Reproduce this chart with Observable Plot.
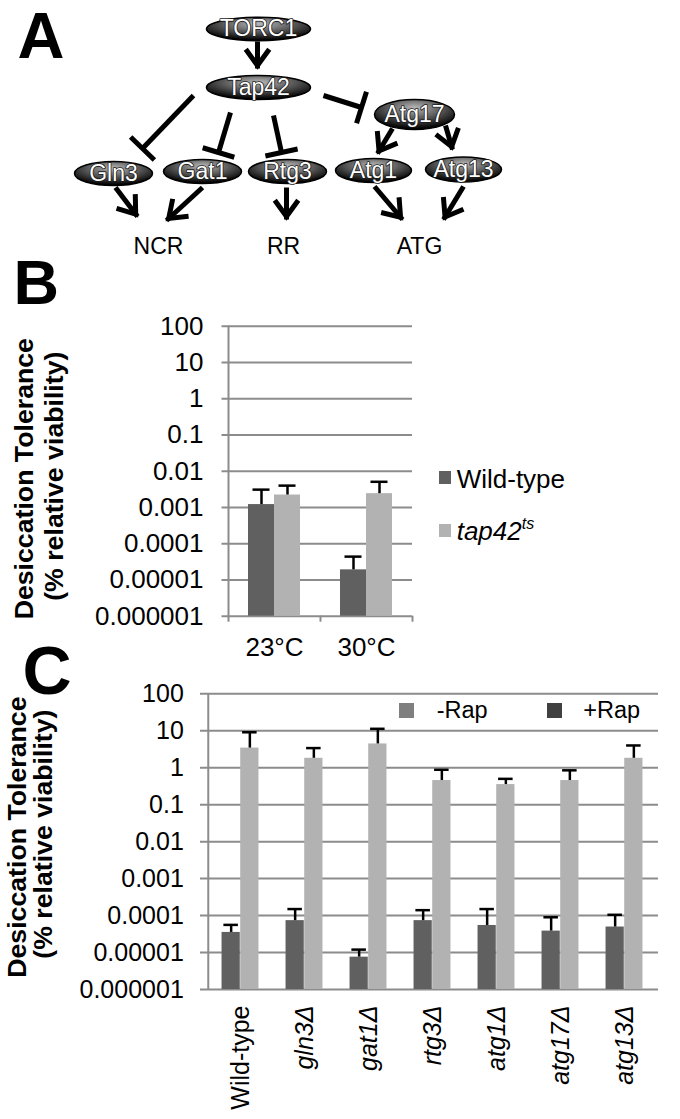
<!DOCTYPE html>
<html><head><meta charset="utf-8">
<script src="https://cdn.jsdelivr.net/npm/d3@7"></script>
<script src="https://cdn.jsdelivr.net/npm/@observablehq/plot@0.6"></script>
<style>
body{margin:0;background:#fff;}
#page{position:relative;width:680px;height:1119px;overflow:hidden;background:#fff;font-family:"Liberation Sans",Arial,sans-serif;color:#000;}
#page svg{position:absolute;left:0;}
.lab{position:absolute;white-space:nowrap;color:#000;}
.sw{position:absolute;}
</style></head><body><div id="page"></div>
<script>
// ---------- Panel A: pathway diagram ----------
const nodeNames = ["TORC1","Tap42","Atg17","Gln3","Gat1","Rtg3","Atg1","Atg13"];
const nodeX = [258,258,414,113,202,287,373,463];
const nodeY = [28.5,87,114,173,171,171,170,169];
const nodeRx = [52,52,40,39,39,39,38,38];
const nodeRy = [11.7,12,15,12,12,12,12,12.5];
const outputNames = ["NCR","RR","ATG"];
const outputX = [158,283,419];
const outputY = [253,253,253];
// activation edges (arrow at end)
const actFrom = [[257,41],[115,187],[202,187],[286,187],[374,186],[463,186],[392,128],[445,125]];
const actTo   = [[257,68],[137,216],[166,220],[286,219],[402,219],[443,219],[377,153],[452,149]];
// inhibition edges (T-bar at end)
const inhFrom = [[193,95],[230,112],[273,115],[323,95]];
const inhTo   = [[142,148],[218,152],[281,152],[361,107]];

// ---------- Panel B ----------
const conditionsB = ["23°C","30°C"];
const seriesB = ["Wild-type","tap42ts"];
const wildTypeB = [1.2e-3, 1.9e-5];
const wildTypeErrB = [3.1e-3, 4.4e-5];
const tap42B = [2.2e-3, 2.4e-3];
const tap42ErrB = [4.0e-3, 5.1e-3];

// ---------- Panel C ----------
const strainsC = ["Wild-type","gln3Δ","gat1Δ","rtg3Δ","atg1Δ","atg17Δ","atg13Δ"];
const plusRap = [3.5e-5, 7.3e-5, 7.5e-6, 7.3e-5, 5.4e-5, 3.8e-5, 4.9e-5];
const plusRapErr = [5.6e-5, 1.5e-4, 1.2e-5, 1.4e-4, 1.5e-4, 9.0e-5, 1.05e-4];
const minusRap = [3.4, 1.8, 4.4, 0.45, 0.35, 0.45, 1.8];
const minusRapErr = [9.1, 3.4, 11.3, 0.88, 0.50, 0.85, 4.0];

// shared log axis ticks
const yTicks = [1e-6,1e-5,1e-4,1e-3,1e-2,1e-1,1,10,100];
const yTickLabels = ["0.000001","0.00001","0.0001","0.001","0.01","0.1","1","10","100"];

const FONT = '"Liberation Sans", Arial, Helvetica, sans-serif';
const GRID = "#8c8c8c";
const DARK = "#606060";
const LIGHT = "#b2b2b2";
const page = document.getElementById("page");
const tickFmt = d => yTickLabels[yTicks.findIndex(t => Math.abs(Math.log10(t) - Math.log10(d)) < 1e-6)];

// ===== Panel A =====
function ellipseSymbol(ry) {
  return {draw(ctx, size) {
    const rx = Math.sqrt(size / Math.PI), k = 0.5522847498, ox = rx * k, oy = ry * k;
    ctx.moveTo(-rx, 0);
    ctx.bezierCurveTo(-rx, -oy, -ox, -ry, 0, -ry);
    ctx.bezierCurveTo(ox, -ry, rx, -oy, rx, 0);
    ctx.bezierCurveTo(rx, oy, ox, ry, 0, ry);
    ctx.bezierCurveTo(-ox, ry, -rx, oy, -rx, 0);
    ctx.closePath();
  }};
}
const nodes = nodeNames.map((n, i) => ({name: n, x: nodeX[i], y: nodeY[i], rx: nodeRx[i], ry: nodeRy[i]}));
const outputs = outputNames.map((n, i) => ({name: n, x: outputX[i], y: outputY[i]}));
const headLen = 20, headAng = 36 * Math.PI / 180;
const shafts = actFrom.map((f, i) => ({x1: f[0], y1: f[1], x2: actTo[i][0], y2: actTo[i][1]}));
const chevrons = actFrom.flatMap((f, i) => {
  const t = actTo[i];
  const a = Math.atan2(t[1] - f[1], t[0] - f[0]);
  const tx = t[0] - 3 * Math.cos(a), ty = t[1] - 3 * Math.sin(a);
  const b = a + Math.PI;
  return [
    {i, x: tx + headLen * Math.cos(b - headAng), y: ty + headLen * Math.sin(b - headAng)},
    {i, x: tx, y: ty},
    {i, x: tx + headLen * Math.cos(b + headAng), y: ty + headLen * Math.sin(b + headAng)}
  ];
});
const inhShafts = inhFrom.map((f, i) => ({x1: f[0], y1: f[1], x2: inhTo[i][0], y2: inhTo[i][1]}));
const barHalf = 16.5;
const tBars = inhFrom.map((f, i) => {
  const t = inhTo[i];
  const a = Math.atan2(t[1] - f[1], t[0] - f[0]);
  const px = -Math.sin(a), py = Math.cos(a);
  return {x1: t[0] - barHalf * px, y1: t[1] - barHalf * py, x2: t[0] + barHalf * px, y2: t[1] + barHalf * py};
});

const svgA = Plot.plot({
  width: 680, height: 250, margin: 0,
  style: {fontFamily: FONT, color: "#000", background: "transparent", overflow: "visible"},
  x: {domain: [0, 680], range: [0, 680], axis: null},
  y: {domain: [0, 250], range: [0, 250], axis: null},
  marks: [
    Plot.link(shafts, {x1: "x1", y1: "y1", x2: "x2", y2: "y2", stroke: "#000", strokeWidth: 5, strokeLinecap: "butt"}),
    Plot.line(chevrons, {x: "x", y: "y", z: "i", stroke: "#000", strokeWidth: 5, strokeLinejoin: "miter", strokeLinecap: "butt", strokeMiterlimit: 10}),
    Plot.link(inhShafts, {x1: "x1", y1: "y1", x2: "x2", y2: "y2", stroke: "#000", strokeWidth: 5, strokeLinecap: "butt"}),
    Plot.link(tBars, {x1: "x1", y1: "y1", x2: "x2", y2: "y2", stroke: "#000", strokeWidth: 5, strokeLinecap: "butt"}),
    ...nodes.map(n => Plot.dot([n], {x: "x", y: "y", r: n.rx, symbol: ellipseSymbol(n.ry), fill: "url(#nodeGrad)", stroke: "#000", strokeWidth: 1.5})),
    Plot.text(nodes, {x: "x", y: "y", text: "name", fill: "#fff", stroke: "#1a1a1a", strokeWidth: 1.6, paintOrder: "stroke", fontSize: 23, lineAnchor: "middle", textAnchor: "middle"}),
    Plot.text(outputs, {x: "x", y: "y", text: "name", fill: "#000", fontSize: 23, lineAnchor: "bottom", textAnchor: "middle"}),
    Plot.text(["A"], {text: d => d, frameAnchor: "top-left", dx: 17, dy: 57, textAnchor: "start", lineAnchor: "bottom", fontSize: 65, fontWeight: "bold"})
  ]
});
d3.select(svgA).insert("defs", ":first-child").html(
  '<radialGradient id="nodeGrad" cx="50%" cy="30%" r="65%" fx="50%" fy="28%">' +
  '<stop offset="0" stop-color="#b8b8b8"/><stop offset="0.45" stop-color="#666"/><stop offset="1" stop-color="#050505"/></radialGradient>');
svgA.style.top = "0px";
page.appendChild(svgA);

// ===== Panel B =====
const WB = 680, HB = 420, mlB = 228, mrB = 268, mtB = 75.7, mbB = 54.3;
const bwB = (WB - mlB - mrB) / conditionsB.length;
const barWB = 26, capWB = 17;
const darkB = conditionsB.map((c, i) => ({cond: c, v: wildTypeB[i], e: wildTypeErrB[i]}));
const lightB = conditionsB.map((c, i) => ({cond: c, v: tap42B[i], e: tap42ErrB[i]}));
const titleLine1 = ["Desiccation Tolerance"], titleLine2 = ["(% relative viability)"];
const svgB = Plot.plot({
  width: WB, height: HB, marginLeft: mlB, marginRight: mrB, marginTop: mtB, marginBottom: mbB,
  style: {fontFamily: FONT, color: "#000", background: "transparent", overflow: "visible"},
  x: {type: "band", domain: conditionsB, padding: 0, axis: null},
  y: {type: "log", domain: [1e-6, 100], axis: null},
  marks: [
    Plot.ruleY(yTicks, {y: d => d, stroke: GRID, strokeWidth: 2, insetLeft: -6.5}),
    Plot.ruleX([conditionsB[0]], {x: d => d, dx: -bwB / 2, y1: 100, y2: 1e-6, insetBottom: -6, stroke: GRID, strokeWidth: 2}),
    Plot.ruleX(conditionsB.slice(1), {x: d => d, dx: -bwB / 2, y1: 1e-6, y2: 1e-6, insetBottom: -6, stroke: GRID, strokeWidth: 2}),
    Plot.ruleX(conditionsB.slice(-1), {x: d => d, dx: bwB / 2, y1: 1e-6, y2: 1e-6, insetBottom: -6, stroke: GRID, strokeWidth: 2}),
    Plot.barY(darkB, {x: "cond", y1: 1e-6, y2: "v", fill: DARK, insetLeft: bwB / 2 - barWB, insetRight: bwB / 2}),
    Plot.barY(lightB, {x: "cond", y1: 1e-6, y2: "v", fill: LIGHT, insetLeft: bwB / 2, insetRight: bwB / 2 - barWB}),
    Plot.ruleX(darkB, {x: "cond", y1: "e", y2: "v", dx: -barWB / 2, stroke: "#000", strokeWidth: 2.5}),
    Plot.ruleX(lightB, {x: "cond", y1: "e", y2: "v", dx: barWB / 2, stroke: "#000", strokeWidth: 2.5}),
    Plot.tickY(darkB, {x: "cond", y: "e", insetLeft: bwB / 2 - barWB / 2 - capWB / 2, insetRight: bwB / 2 + barWB / 2 - capWB / 2, stroke: "#000", strokeWidth: 2.5}),
    Plot.tickY(lightB, {x: "cond", y: "e", insetLeft: bwB / 2 + barWB / 2 - capWB / 2, insetRight: bwB / 2 - barWB / 2 - capWB / 2, stroke: "#000", strokeWidth: 2.5}),
    Plot.axisY({ticks: yTicks, tickFormat: tickFmt, tickSize: 0, tickPadding: 25, fontSize: 26, label: null}),
    Plot.axisX({tickSize: 0, tickPadding: 21, fontSize: 26, label: null}),
    Plot.text(titleLine1, {text: d => d, frameAnchor: "left", rotate: -90, textAnchor: "middle", lineAnchor: "bottom", dx: 32 - mlB, dy: 7.5, fontSize: 26.7, fontWeight: "bold"}),
    Plot.text(titleLine2, {text: d => d, frameAnchor: "left", rotate: -90, textAnchor: "middle", lineAnchor: "bottom", dx: 62.5 - mlB, dy: 5, fontSize: 26.7, fontWeight: "bold"}),
    Plot.text(["B"], {text: d => d, frameAnchor: "top-left", dx: 13 - mlB, dy: 53 - mtB, textAnchor: "start", lineAnchor: "bottom", fontSize: 63, fontWeight: "bold"})
  ]
});
svgB.style.top = "250px";
page.appendChild(svgB);

// ===== Panel C =====
const WC = 680, HC = 469, mlC = 206.7, mrC = 22, mtC = 43.3, mbC = 130;
const bwC = (WC - mlC - mrC) / strainsC.length;
const barWC = 18.7, capWC = 15;
const darkC = strainsC.map((s, i) => ({strain: s, v: plusRap[i], e: plusRapErr[i]}));
const lightC = strainsC.map((s, i) => ({strain: s, v: minusRap[i], e: minusRapErr[i]}));
const svgC = Plot.plot({
  width: WC, height: HC, marginLeft: mlC, marginRight: mrC, marginTop: mtC, marginBottom: mbC,
  style: {fontFamily: FONT, color: "#000", background: "transparent", overflow: "visible"},
  x: {type: "band", domain: strainsC, padding: 0, axis: null},
  y: {type: "log", domain: [1e-6, 100], axis: null},
  marks: [
    Plot.ruleY(yTicks, {y: d => d, stroke: GRID, strokeWidth: 2, insetLeft: -6.7}),
    Plot.ruleX([strainsC[0]], {x: d => d, dx: -bwC / 2, y1: 100, y2: 1e-6, stroke: GRID, strokeWidth: 2}),
    Plot.barY(darkC, {x: "strain", y1: 1e-6, y2: "v", fill: DARK, insetLeft: bwC / 2 - barWC, insetRight: bwC / 2}),
    Plot.barY(lightC, {x: "strain", y1: 1e-6, y2: "v", fill: LIGHT, insetLeft: bwC / 2, insetRight: bwC / 2 - barWC}),
    Plot.ruleX(darkC, {x: "strain", y1: "e", y2: "v", dx: -barWC / 2, stroke: "#000", strokeWidth: 2.5}),
    Plot.ruleX(lightC, {x: "strain", y1: "e", y2: "v", dx: barWC / 2, stroke: "#000", strokeWidth: 2.5}),
    Plot.tickY(darkC, {x: "strain", y: "e", insetLeft: bwC / 2 - barWC / 2 - capWC / 2, insetRight: bwC / 2 + barWC / 2 - capWC / 2, stroke: "#000", strokeWidth: 2.5}),
    Plot.tickY(lightC, {x: "strain", y: "e", insetLeft: bwC / 2 + barWC / 2 - capWC / 2, insetRight: bwC / 2 - barWC / 2 - capWC / 2, stroke: "#000", strokeWidth: 2.5}),
    Plot.axisY({ticks: yTicks, tickFormat: tickFmt, tickSize: 0, tickPadding: 23.4, fontSize: 25, label: null}),
    Plot.text(strainsC.slice(0, 1), {x: d => d, text: d => d, frameAnchor: "bottom", dy: 16, rotate: -90, textAnchor: "end", lineAnchor: "middle", fontSize: 25}),
    Plot.text(strainsC.slice(1), {x: d => d, text: d => d, frameAnchor: "bottom", dy: 16, rotate: -90, textAnchor: "end", lineAnchor: "middle", fontSize: 25, fontStyle: "italic"}),
    Plot.text(titleLine1, {text: d => d, frameAnchor: "left", rotate: -90, textAnchor: "middle", lineAnchor: "bottom", dx: 25 - mlC, dy: -4.5, fontSize: 26.7, fontWeight: "bold"}),
    Plot.text(titleLine2, {text: d => d, frameAnchor: "left", rotate: -90, textAnchor: "middle", lineAnchor: "bottom", dx: 51 - mlC, dy: -7.5, fontSize: 26.7, fontWeight: "bold"}),
    Plot.text(["C"], {text: d => d, frameAnchor: "top-left", dx: 22 - mlC, dy: 693 - 650 - mtC, textAnchor: "start", lineAnchor: "bottom", fontSize: 68, fontWeight: "bold"})
  ]
});
svgC.style.top = "650px";
page.appendChild(svgC);

// ===== Legends (HTML) =====
function label(html, x, baseline, size, extra = "") {
  const d = document.createElement("div");
  d.className = "lab";
  d.style.cssText = `left:${x}px;top:${baseline - 0.8465 * size}px;font-size:${size}px;line-height:${size}px;${extra}`;
  d.innerHTML = html;
  page.appendChild(d);
}
function swatch(x, y, s, color) {
  const d = document.createElement("div");
  d.className = "sw";
  d.style.cssText = `left:${x}px;top:${y}px;width:${s}px;height:${s}px;background:${color};`;
  page.appendChild(d);
}
// Panel B legend
swatch(438.5, 471, 12.5, DARK);
label(seriesB[0], 456.7, 488.3, 26);
swatch(438.5, 524, 12.5, LIGHT);
label('<i>tap42<span style="font-size:16px;line-height:0;vertical-align:11px">ts</span></i>', 456.7, 540, 26);
// Panel C legend
swatch(399, 702.7, 15, "#7f7f7f");
label("-Rap", 436.7, 719.3, 23.5);
swatch(546.7, 702.7, 15, "#404040");
label("+Rap", 583.3, 719.3, 23.5);
</script></body></html>
